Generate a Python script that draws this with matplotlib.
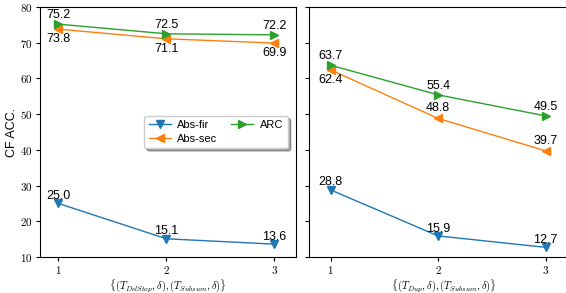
import matplotlib
matplotlib.use("Agg")
import matplotlib.pyplot as plt
from matplotlib.ticker import FuncFormatter

plt.rcParams['font.family'] = ['Liberation Sans', 'DejaVu Sans']
plt.rcParams['mathtext.fontset'] = 'cm'

steps = [1, 2, 3]

# left panel: {(T_DelStop, d), (T_Subsum, d)}
left_fir = [25.0, 15.1, 13.6]
left_sec = [73.8, 71.1, 69.9]
left_arc = [75.2, 72.5, 72.2]

# right panel: {(T_Dup, d), (T_Subsum, d)}
right_fir = [28.8, 15.9, 12.7]
right_sec = [62.4, 48.8, 39.7]
right_arc = [63.7, 55.4, 49.5]

left_xlabel = r'$\{(T_{DelStop},\delta),(T_{Subsum},\delta)\}$'
right_xlabel = r'$\{(T_{Dup},\delta),(T_{Subsum},\delta)\}$'

# label placement above (+) / below (-) each point
left_sec_pos = [-1, -1, -1]
right_sec_pos = [-1, 1, 1]

fig = plt.figure(figsize=(5.66, 2.93), dpi=100)
ax1 = fig.add_axes([40 / 566, 36 / 293, 256 / 566, 250 / 293])
ax2 = fig.add_axes([309 / 566, 36 / 293, 269 / 566, 250 / 293], sharey=ax1)

blue, orange, green = 'tab:blue', 'tab:orange', 'tab:green'
mathfmt = FuncFormatter(lambda v, p: r'$%d$' % v)


def draw(ax, fir, sec, arc, sec_pos, xlabel):
    ax.plot(steps, fir, color=blue, marker='v', lw=1, ms=6, label='Abs-fir')
    ax.plot(steps, sec, color=orange, marker='<', lw=1, ms=6, label='Abs-sec')
    ax.plot(steps, arc, color=green, marker='>', lw=1, ms=6, label='ARC')
    for x, y in zip(steps, fir):
        ax.annotate('%.1f' % y, (x, y), xytext=(0, 1), textcoords='offset points',
                    ha='center', va='bottom', fontsize=9)
    for x, y in zip(steps, arc):
        ax.annotate('%.1f' % y, (x, y), xytext=(0, 2), textcoords='offset points',
                    ha='center', va='bottom', fontsize=9)
    for x, y, s in zip(steps, sec, sec_pos):
        ax.annotate('%.1f' % y, (x, y), xytext=(0, 3 * s), textcoords='offset points',
                    ha='center', va='bottom' if s > 0 else 'top', fontsize=9)
    ax.set_xticks(steps)
    ax.xaxis.set_major_formatter(mathfmt)
    ax.set_xlabel(xlabel, fontsize=7.5, labelpad=1)
    ax.tick_params(labelsize=8, pad=2, length=3)


draw(ax1, left_fir, left_sec, left_arc, left_sec_pos, left_xlabel)
draw(ax2, right_fir, right_sec, right_arc, right_sec_pos, right_xlabel)

ax1.set_ylim(10, 80)
ax1.set_yticks(range(10, 81, 10))
ax1.yaxis.set_major_formatter(mathfmt)
ax1.set_xlim(0.83, 3.2)
ax2.set_xlim(0.8, 3.3)
ax2.tick_params(labelleft=False)
ax1.set_ylabel('CF ACC.', fontsize=9, labelpad=2)

ax1.legend(ncol=2, loc='center right', bbox_to_anchor=(0.99, 0.5), fontsize=8,
           shadow=True, fancybox=True, framealpha=1, columnspacing=1.2,
           handlelength=2.0, handletextpad=0.6, borderpad=0.4, labelspacing=0.3)

fig.savefig('out.png', dpi=100)
